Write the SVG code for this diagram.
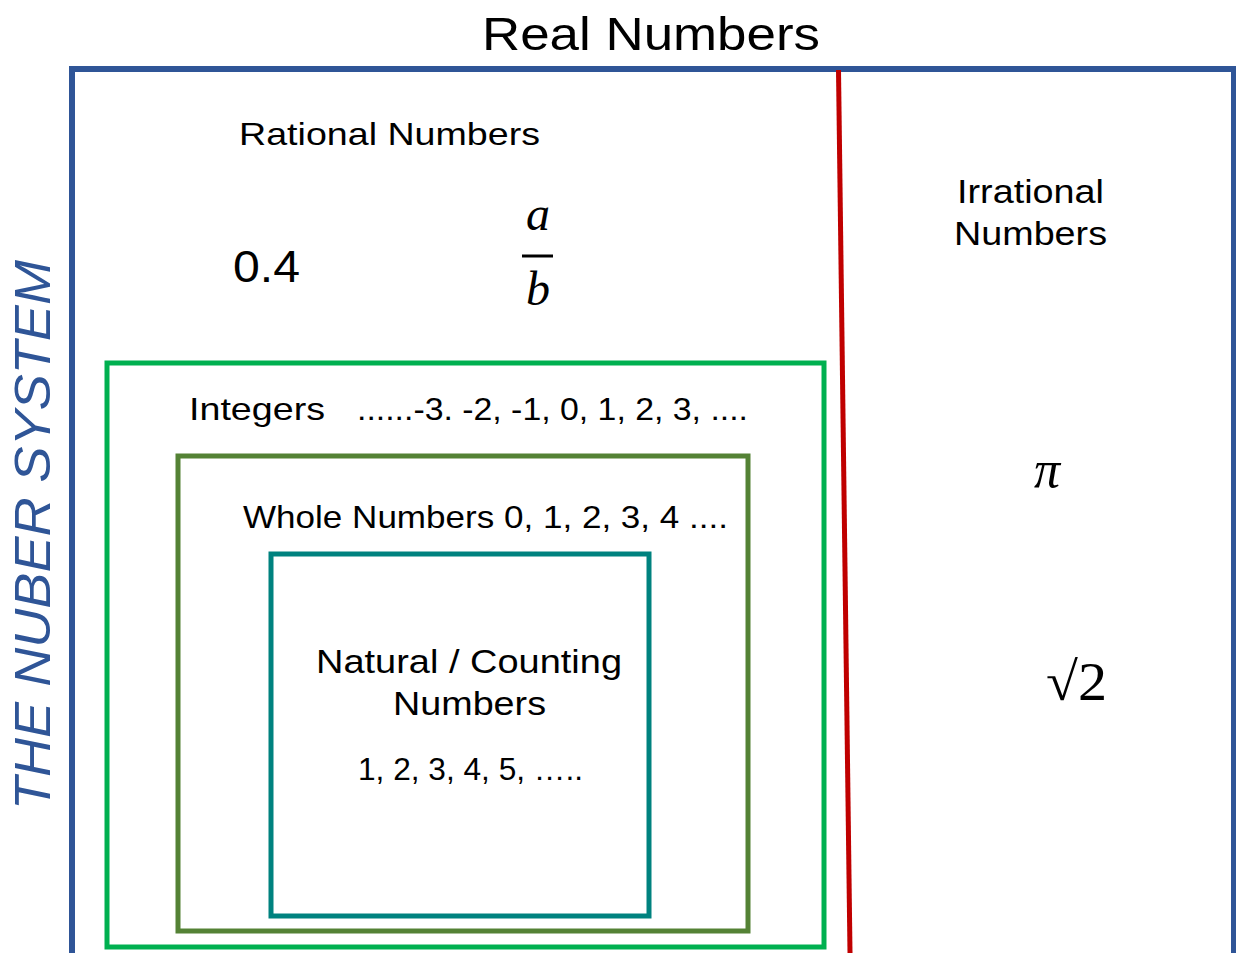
<svg xmlns="http://www.w3.org/2000/svg" width="1236" height="953" viewBox="0 0 1236 953">
<style>
.t{font-family:"Liberation Sans",Arial,sans-serif;fill:#000}
.m{font-family:"Liberation Serif","Times New Roman",serif;font-style:italic;fill:#000}
.box{fill:none;stroke-linejoin:miter}
</style>
<rect width="1236" height="953" fill="#fff"/>
<g id="real">
<path d="M72,953 V69 H1234 V953" class="box" stroke="#2f5597" stroke-width="6"/>
<text class="t" x="482" y="50" font-size="46" textLength="338" lengthAdjust="spacingAndGlyphs">Real Numbers</text>
</g>
<g id="side-title">
<text x="50" y="535" transform="rotate(-90 50 535)" font-family="Liberation Sans,Arial,sans-serif" font-style="italic" font-size="50" fill="#2f5597" text-anchor="middle" textLength="550" lengthAdjust="spacingAndGlyphs">THE NUBER SYSTEM</text>
</g>
<g id="divider">
<line x1="838.5" y1="70" x2="850" y2="953" stroke="#c00000" stroke-width="5"/>
</g>
<g id="rational">
<text class="t" x="239" y="145" font-size="32" textLength="301" lengthAdjust="spacingAndGlyphs">Rational Numbers</text>
<text class="t" x="233" y="282" font-size="44" textLength="67" lengthAdjust="spacingAndGlyphs">0.4</text>
<text class="m" x="538" y="230" font-size="48" text-anchor="middle">a</text>
<line x1="522" y1="256" x2="553" y2="256" stroke="#000" stroke-width="3"/>
<text class="m" x="538" y="305" font-size="48" text-anchor="middle">b</text>
</g>
<g id="irrational">
<text class="t" x="957" y="203" font-size="33" textLength="147" lengthAdjust="spacingAndGlyphs">Irrational</text>
<text class="t" x="954" y="245" font-size="33" textLength="153" lengthAdjust="spacingAndGlyphs">Numbers</text>
<text class="m" x="1047" y="487" font-size="52" text-anchor="middle">π</text>
<text font-family="Liberation Serif,'Times New Roman',serif" x="1046" y="700" font-size="54" textLength="61" lengthAdjust="spacingAndGlyphs">√2</text>
</g>
<g id="integers">
<rect x="107" y="363" width="717" height="584" class="box" stroke="#00b050" stroke-width="5"/>
<text class="t" x="189" y="420" font-size="32" textLength="136" lengthAdjust="spacingAndGlyphs">Integers</text>
<text class="t" x="357" y="420" font-size="32" textLength="391" lengthAdjust="spacingAndGlyphs">......-3. -2, -1, 0, 1, 2, 3, ....</text>
</g>
<g id="whole">
<rect x="178" y="456" width="570" height="475" class="box" stroke="#548235" stroke-width="5"/>
<text class="t" x="243" y="528" font-size="32" textLength="485" lengthAdjust="spacingAndGlyphs">Whole Numbers 0, 1, 2, 3, 4 ....</text>
</g>
<g id="natural">
<rect x="271" y="554" width="378" height="362" class="box" stroke="#00827f" stroke-width="5"/>
<text class="t" x="316" y="673" font-size="33" textLength="306" lengthAdjust="spacingAndGlyphs">Natural / Counting</text>
<text class="t" x="393" y="715" font-size="33" textLength="153" lengthAdjust="spacingAndGlyphs">Numbers</text>
<text class="t" x="358" y="780" font-size="32" textLength="225" lengthAdjust="spacingAndGlyphs">1, 2, 3, 4, 5, …..</text>
</g>
</svg>
